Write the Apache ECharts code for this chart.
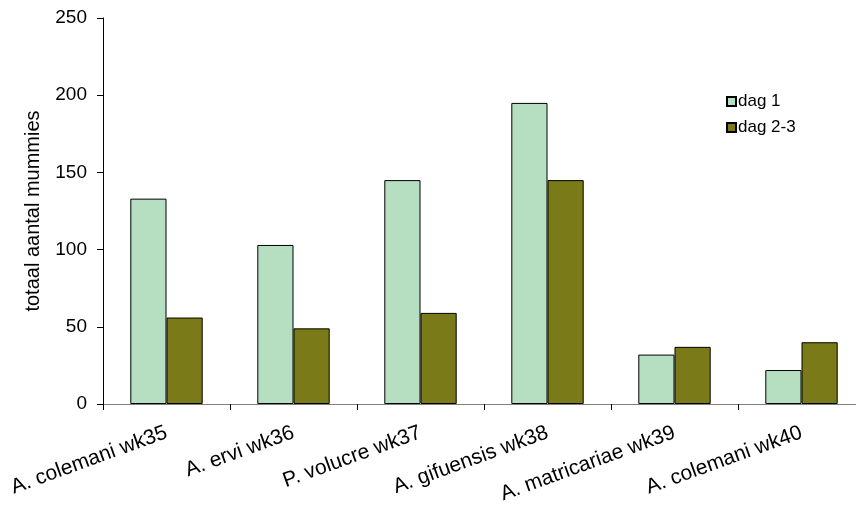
<!DOCTYPE html>
<html><head><meta charset="utf-8">
<script src="https://cdn.jsdelivr.net/npm/echarts@6/dist/echarts.min.js"></script>
<style>html,body{margin:0;padding:0;background:#fff;overflow:hidden;width:856px;height:506px}#c{width:870px;height:506px}</style>
</head><body><div id="c"></div>
<script>
const categories = ['A. colemani wk35','A. ervi wk36','P. volucre wk37','A. gifuensis wk38','A. matricariae wk39','A. colemani wk40'];
const dag1 = [133, 103, 145, 195, 32, 22];
const dag23 = [56, 49, 59, 145, 37, 40];
const seriesNames = ['dag 1', 'dag 2-3'];
const yTitle = 'totaal aantal mummies';

const F = 'Liberation Sans, Arial, sans-serif';
const chart = echarts.init(document.getElementById('c'), null, {renderer:'canvas'});
chart.setOption({
  animation: false,
  grid: {left: 103, top: 18, right: 5, bottom: 102, containLabel: false},
  legend: {
    orient: 'vertical', left: 721, top: 88, itemWidth: 9, itemHeight: 9, itemGap: 9, icon: 'rect',
    textStyle: {fontFamily: F, fontSize: 17, color: '#000', padding: [0,0,0,-3]},
    data: seriesNames
  },
  xAxis: {
    type: 'category', data: categories,
    axisLine: {lineStyle: {color: '#808080', width: 1}},
    axisTick: {show: true, length: 6, lineStyle: {color: '#000'}},
    axisLabel: {rotate: 20, interval: 0, margin: 28, fontFamily: F, fontSize: 21, color: '#000'}
  },
  yAxis: {
    type: 'value', min: 0, max: 250, interval: 50,
    name: yTitle, nameLocation: 'middle', nameGap: 60, nameRotate: 90,
    nameTextStyle: {fontFamily: F, fontSize: 20, color: '#000'},
    axisLine: {show: true, lineStyle: {color: '#000', width: 1}},
    axisTick: {show: true, length: 6, lineStyle: {color: '#000'}},
    axisLabel: {margin: 16, fontFamily: F, fontSize: 19, color: '#000'},
    splitLine: {show: false}
  },
  series: [
    {name: seriesNames[0], type: 'bar', data: dag1, barGap: '0%', barCategoryGap: '43%',
     itemStyle: {color: '#B5DFC0', borderColor: '#000', borderWidth: 1}},
    {name: seriesNames[1], type: 'bar', data: dag23, barGap: '0%', barCategoryGap: '43%',
     itemStyle: {color: '#7A7A18', borderColor: '#000', borderWidth: 1}}
  ]
});
</script></body></html>
